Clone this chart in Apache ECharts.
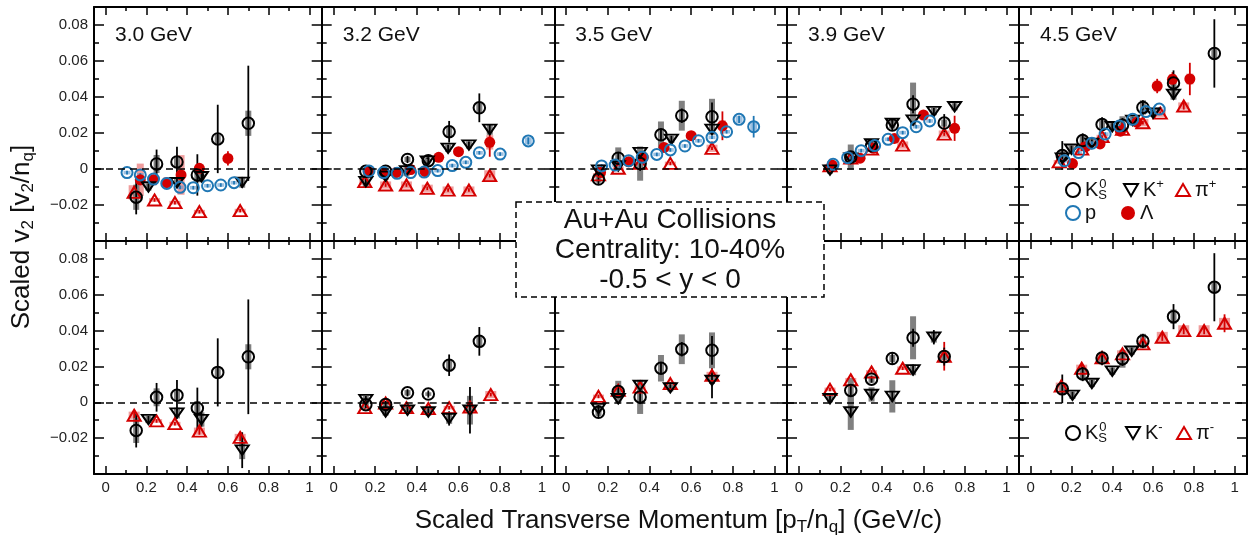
<!DOCTYPE html>
<html><head><meta charset="utf-8">
<script src="https://cdn.jsdelivr.net/npm/echarts@6/dist/echarts.min.js"></script>
<style>html,body{margin:0;padding:0;background:#fff}#c{width:1255px;height:544px}</style>
</head><body><div id="c"></div>
<script>
// ---------- DATA: [x (pT/nq), v2/nq, stat err, sys err] ----------
const ENERGIES = ['3.0 GeV', '3.2 GeV', '3.5 GeV', '3.9 GeV', '4.5 GeV'];
const X_MAJOR = [0, 0.2, 0.4, 0.6, 0.8, 1];
const X_MINOR = [0.1, 0.3, 0.5, 0.7, 0.9];

const KS_30 = [[0.15,-0.0157,0.0095,0.007],[0.25,0.0028,0.008,0.005],[0.35,0.0039,0.0085,0.003],[0.45,-0.0033,0.0115,0.004],[0.55,0.0167,0.019,0.0025],[0.70,0.0254,0.032,0.007]];
const Kp_30 = [[0.21,-0.0100,0.002,0.002],[0.35,-0.0076,0.002,0.002],[0.47,-0.0043,0.003,0.003],[0.67,-0.0074,0.003,0.003]];
const pip_30 = [[0.14,-0.0130,0.002,0.004],[0.24,-0.0172,0.001,0.001],[0.34,-0.0187,0.001,0.001],[0.46,-0.0237,0.001,0.001],[0.66,-0.0231,0.001,0.001]];
const Lam_30 = [[0.17,-0.0060,0.003,0.009],[0.235,-0.0060,0.002,0.003],[0.30,-0.0076,0.002,0.003],[0.37,-0.0033,0.003,0.011],[0.46,0.0004,0.002,0.002],[0.60,0.0059,0.004,0.002]];
const p_30 = [[0.105,-0.0020,0.001,0.001],[0.17,-0.0033,0.001,0.001],[0.235,-0.0056,0.001,0.001],[0.30,-0.0080,0.001,0.001],[0.365,-0.0102,0.001,0.001],[0.43,-0.0104,0.001,0.001],[0.50,-0.0093,0.001,0.001],[0.565,-0.0089,0.001,0.001],[0.63,-0.0076,0.001,0.001]];
const Km_30 = [[0.21,-0.0096,0.002,0.002],[0.35,-0.0060,0.003,0.003],[0.47,-0.0096,0.004,0.004],[0.67,-0.0267,0.010,0.005]];
const pim_30 = [[0.14,-0.0072,0.002,0.002],[0.25,-0.0104,0.001,0.001],[0.34,-0.0119,0.001,0.001],[0.46,-0.0161,0.002,0.002],[0.66,-0.0196,0.002,0.002]];

const KS_32 = [[0.155,-0.0013,0.002,0.002],[0.25,-0.0012,0.002,0.002],[0.355,0.0053,0.002,0.0015],[0.455,0.0046,0.002,0.001],[0.555,0.0207,0.006,0.003],[0.70,0.0340,0.008,0.003]];
const Kp_32 = [[0.155,-0.0070,0.003,0.003],[0.25,-0.0040,0.002,0.002],[0.35,-0.0010,0.002,0.003],[0.45,0.0044,0.002,0.002],[0.55,0.0115,0.002,0.002],[0.65,0.0133,0.002,0.002],[0.75,0.0220,0.003,0.003]];
const pip_32 = [[0.15,-0.0070,0.001,0.002],[0.25,-0.0089,0.001,0.002],[0.35,-0.0089,0.001,0.002],[0.45,-0.0107,0.001,0.002],[0.55,-0.0117,0.001,0.002],[0.65,-0.0117,0.001,0.002],[0.75,-0.0037,0.001,0.003]];
const Lam_32 = [[0.17,-0.0015,0.001,0.001],[0.24,-0.0024,0.001,0.001],[0.30,-0.0020,0.001,0.001],[0.37,-0.0003,0.001,0.001],[0.44,-0.0015,0.001,0.001],[0.505,0.0065,0.002,0.001],[0.60,0.0096,0.002,0.002],[0.75,0.0148,0.008,0.004]];
const p_32 = [[0.17,-0.0011,0.001,0.001],[0.24,-0.0020,0.001,0.001],[0.305,-0.0024,0.001,0.001],[0.37,-0.0020,0.001,0.001],[0.435,-0.0017,0.001,0.001],[0.50,-0.0009,0.001,0.001],[0.57,0.0019,0.001,0.001],[0.635,0.0037,0.001,0.001],[0.70,0.0090,0.001,0.001],[0.80,0.0083,0.001,0.001],[0.935,0.0156,0.002,0.002]];
const Km_32 = [[0.155,0.0015,0.002,0.002],[0.25,-0.0054,0.002,0.002],[0.355,-0.0044,0.002,0.002],[0.455,-0.0054,0.002,0.002],[0.555,-0.0090,0.004,0.003],[0.655,-0.0044,0.013,0.008]];
const pim_32 = [[0.15,-0.0030,0.001,0.001],[0.25,-0.0004,0.001,0.001],[0.35,-0.0030,0.001,0.001],[0.455,-0.0035,0.001,0.001],[0.555,-0.0030,0.001,0.001],[0.655,-0.0026,0.001,0.001],[0.755,0.0043,0.001,0.002]];

const KS_35 = [[0.155,-0.0056,0.003,0.002],[0.25,0.0060,0.003,0.006],[0.355,0.0030,0.004,0.0095],[0.455,0.0190,0.003,0.0074],[0.555,0.0296,0.004,0.0083],[0.70,0.0290,0.008,0.010]];
const Kp_35 = [[0.155,-0.0006,0.002,0.002],[0.25,0.0017,0.002,0.002],[0.355,0.0091,0.002,0.002],[0.505,0.0165,0.002,0.002],[0.70,0.0220,0.003,0.002]];
const pip_35 = [[0.155,-0.0033,0.001,0.001],[0.25,0.0004,0.001,0.001],[0.355,0.0031,0.001,0.001],[0.50,0.0031,0.001,0.001],[0.70,0.0115,0.001,0.002]];
const Lam_35 = [[0.165,-0.0020,0.001,0.001],[0.30,0.0040,0.001,0.001],[0.37,0.0065,0.002,0.001],[0.47,0.0120,0.002,0.001],[0.60,0.0185,0.002,0.001],[0.75,0.0240,0.008,0.003]];
const p_35 = [[0.17,0.0017,0.001,0.001],[0.235,0.0022,0.001,0.001],[0.30,0.0046,0.001,0.001],[0.365,0.0065,0.001,0.001],[0.435,0.0081,0.001,0.001],[0.50,0.0106,0.001,0.001],[0.57,0.0128,0.001,0.001],[0.635,0.0157,0.001,0.001],[0.70,0.0176,0.001,0.001],[0.77,0.0207,0.001,0.001],[0.83,0.0276,0.002,0.002],[0.90,0.0235,0.006,0.003]];
const Km_35 = [[0.155,-0.0035,0.002,0.002],[0.25,0.0020,0.003,0.002],[0.355,0.0094,0.002,0.002],[0.50,0.0081,0.002,0.002],[0.70,0.0122,0.010,0.002]];
const pim_35 = [[0.155,0.0033,0.001,0.001],[0.25,0.0067,0.001,0.001],[0.355,0.0085,0.001,0.001],[0.50,0.0104,0.001,0.001],[0.70,0.0150,0.001,0.002]];

const KS_39 = [[0.25,0.0066,0.003,0.007],[0.35,0.0129,0.002,0.002],[0.45,0.0244,0.003,0.002],[0.55,0.0360,0.005,0.012],[0.70,0.0255,0.005,0.002]];
const Kp_39 = [[0.15,-0.0006,0.002,0.002],[0.25,0.0060,0.002,0.002],[0.35,0.0139,0.002,0.002],[0.45,0.0254,0.002,0.002],[0.55,0.0272,0.002,0.002],[0.65,0.0319,0.002,0.002],[0.75,0.0346,0.002,0.002]];
const pip_39 = [[0.15,0.0017,0.001,0.001],[0.25,0.0060,0.001,0.001],[0.35,0.0110,0.001,0.001],[0.50,0.0133,0.001,0.002],[0.70,0.0194,0.001,0.002]];
const Lam_39 = [[0.16,0.0022,0.002,0.001],[0.295,0.0060,0.002,0.001],[0.36,0.0115,0.002,0.001],[0.46,0.0170,0.002,0.001],[0.60,0.0300,0.002,0.001],[0.75,0.0226,0.007,0.002]];
const p_39 = [[0.165,0.0026,0.001,0.001],[0.235,0.0063,0.001,0.001],[0.30,0.0102,0.001,0.001],[0.365,0.0130,0.001,0.001],[0.43,0.0165,0.001,0.001],[0.50,0.0202,0.001,0.001],[0.565,0.0235,0.001,0.001],[0.63,0.0267,0.001,0.001]];
const Km_39 = [[0.15,0.0020,0.002,0.002],[0.25,-0.0054,0.003,0.010],[0.35,0.0044,0.003,0.004],[0.45,0.0033,0.003,0.009],[0.55,0.0181,0.003,0.003],[0.65,0.0363,0.004,0.003]];
const pim_39 = [[0.15,0.0072,0.001,0.001],[0.25,0.0126,0.001,0.001],[0.35,0.0169,0.001,0.001],[0.50,0.0190,0.001,0.001],[0.70,0.0257,0.008,0.002]];

const KS_45 = [[0.155,0.0075,0.008,0.003],[0.255,0.0158,0.004,0.003],[0.35,0.0247,0.004,0.003],[0.45,0.0243,0.004,0.005],[0.55,0.0342,0.004,0.004],[0.70,0.0478,0.007,0.004],[0.90,0.0642,0.019,0.003]];
const Kp_45 = [[0.155,0.0060,0.002,0.002],[0.20,0.0110,0.002,0.002],[0.30,0.0143,0.002,0.002],[0.40,0.0235,0.002,0.002],[0.50,0.0270,0.002,0.002],[0.60,0.0310,0.002,0.002],[0.70,0.0415,0.003,0.003]];
const pip_45 = [[0.14,0.0040,0.001,0.001],[0.25,0.0110,0.001,0.001],[0.35,0.0180,0.001,0.001],[0.45,0.0220,0.001,0.001],[0.55,0.0257,0.001,0.002],[0.635,0.0310,0.001,0.002],[0.75,0.0350,0.002,0.002]];
const Lam_45 = [[0.205,0.0030,0.002,0.002],[0.27,0.0124,0.002,0.002],[0.34,0.0139,0.002,0.002],[0.44,0.0210,0.002,0.002],[0.52,0.0260,0.002,0.002],[0.62,0.0461,0.004,0.003],[0.695,0.0498,0.004,0.003],[0.78,0.0500,0.009,0.003]];
const p_45 = [[0.165,0.0046,0.001,0.001],[0.235,0.0091,0.001,0.001],[0.30,0.0143,0.001,0.001],[0.365,0.0194,0.001,0.001],[0.435,0.0239,0.001,0.001],[0.50,0.0276,0.001,0.001],[0.565,0.0319,0.001,0.001],[0.63,0.0333,0.001,0.001]];
const Km_45 = [[0.205,0.0039,0.002,0.002],[0.30,0.0105,0.002,0.002],[0.40,0.0174,0.002,0.002],[0.495,0.0285,0.002,0.002]];
const pim_45 = [[0.15,0.0090,0.003,0.002],[0.25,0.0190,0.002,0.002],[0.35,0.0248,0.002,0.002],[0.45,0.0270,0.002,0.002],[0.55,0.0326,0.002,0.002],[0.645,0.0363,0.002,0.003],[0.75,0.0400,0.002,0.003],[0.85,0.0400,0.002,0.003],[0.95,0.0441,0.005,0.003]];

// panel contents (draw order: first drawn at bottom)
const TOP_PANELS = [
  {Lam: Lam_30, pip: pip_30, Kp: Kp_30, KS: KS_30, p: p_30},
  {Lam: Lam_32, pip: pip_32, Kp: Kp_32, KS: KS_32, p: p_32},
  {Lam: Lam_35, pip: pip_35, Kp: Kp_35, KS: KS_35, p: p_35},
  {Lam: Lam_39, pip: pip_39, Kp: Kp_39, KS: KS_39, p: p_39},
  {Lam: Lam_45, pip: pip_45, Kp: Kp_45, KS: KS_45, p: p_45}
];
const BOT_PANELS = [
  {pim: pim_30, Km: Km_30, KS: KS_30},
  {pim: pim_32, Km: Km_32, KS: KS_32},
  {pim: pim_35, Km: Km_35, KS: KS_35},
  {pim: pim_39, Km: Km_39, KS: KS_39},
  {pim: pim_45, Km: Km_45, KS: KS_45}
];

// ---------- LAYOUT / STYLE ----------
const FONT = '"Liberation Sans", Arial, Helvetica, sans-serif';
const COL_LEFT = [94, 321.7, 554.3, 787, 1019];
const COL_W = [227.7, 232.6, 232.7, 232, 228];
const ROW_TOP = [7, 241];
const ROW_H = [234, 233];
const XMIN = -0.057, XMAX = 1.06, YMIN = -0.04, YMAX = 0.09;
const RED = '#d40000', BLUE = '#1f77b4';
const INV = 'path://M0,0L14,0L7,12Z';

const STY = {
  KS:  {symbol:'circle', size:11.5, fill:'rgba(0,0,0,0)', border:'#000', bw:2, stat:'#000', sys:'#808080', boxW:6},
  Kp:  {symbol:INV, size:[13,11], fill:'rgba(0,0,0,0)', border:'#000', bw:2, stat:'#000', sys:'#808080', boxW:6},
  Km:  {symbol:INV, size:[13,11], fill:'rgba(0,0,0,0)', border:'#000', bw:2, stat:'#000', sys:'#808080', boxW:6},
  pip: {symbol:'triangle', size:[13,11], fill:'rgba(0,0,0,0)', border:RED, bw:2, stat:RED, sys:'rgba(225,60,60,0.5)', boxW:11},
  pim: {symbol:'triangle', size:[13,11], fill:'rgba(0,0,0,0)', border:RED, bw:2, stat:RED, sys:'rgba(225,60,60,0.5)', boxW:11},
  p:   {symbol:'circle', size:11, fill:'rgba(0,0,0,0)', border:BLUE, bw:2, stat:BLUE, sys:'rgba(90,150,205,0.6)', boxW:7},
  Lam: {symbol:'circle', size:11, fill:RED, border:RED, bw:0, stat:RED, sys:'rgba(225,60,60,0.5)', boxW:7}
};
const LEG_STY = {
  KS:{symbol:'circle'}, Kp:{symbol:INV}, Km:{symbol:INV}, pip:{symbol:'triangle'}, pim:{symbol:'triangle'}, p:{symbol:'circle'}, Lam:{symbol:'circle'}
};

const grids = [], xAxes = [], yAxes = [], series = [];

function xAx(g, pos, ticks, len, showLine, showLabel) {
  return {
    type:'value', gridIndex:g, position:pos, min:XMIN, max:XMAX,
    axisLine:{show:showLine, onZero:false, lineStyle:{color:'#000', width:2}},
    axisTick:{show:true, inside:true, length:len, customValues:ticks, lineStyle:{color:'#000', width:1.5}},
    axisLabel:{show:showLabel, customValues:ticks, margin:6, fontSize:15, color:'#222', fontFamily:FONT, formatter:v=>String(v)},
    splitLine:{show:false}, minorTick:{show:false}
  };
}
function yAx(g, pos, showLabel) {
  return {
    type:'value', gridIndex:g, position:pos, min:YMIN, max:YMAX, interval:0.02,
    axisLine:{show:true, onZero:false, lineStyle:{color:'#000', width:2}},
    axisTick:{show:true, inside:true, length:10, lineStyle:{color:'#000', width:1.5}},
    minorTick:{show:true, splitNumber:2, length:5, lineStyle:{color:'#000', width:1.5}},
    axisLabel:{show:showLabel, showMinLabel:false, showMaxLabel:false, margin:6, fontSize:15, color:'#222', fontFamily:FONT,
      formatter:v=>{ if (Math.abs(v) < 1e-9) return '0'; return (v<0?'\u2212':'') + Math.abs(v).toFixed(2); }},
    splitLine:{show:false}
  };
}
function errRender(sty) {
  return function(params, api) {
    const x = api.value(0), y = api.value(1), st = api.value(2), sy = api.value(3);
    const c = api.coord([x, y]);
    const a = api.coord([x, y + st]), b = api.coord([x, y - st]);
    const s1 = api.coord([x, y + sy]), s2 = api.coord([x, y - sy]);
    return {type:'group', children:[
      {type:'rect', shape:{x:c[0]-sty.boxW/2, y:s1[1], width:sty.boxW, height:s2[1]-s1[1]}, style:{fill:sty.sys}},
      {type:'line', shape:{x1:c[0], y1:a[1], x2:c[0], y2:b[1]}, style:{stroke:sty.stat, lineWidth:1.8}}
    ]};
  };
}

for (let r = 0; r < 2; r++) {
  for (let e = 0; e < 5; e++) {
    const g = grids.length;
    grids.push({left:COL_LEFT[e], top:ROW_TOP[r], width:COL_W[e], height:ROW_H[r], containLabel:false, outerBoundsMode:'none'});
    const xi = xAxes.length;
    xAxes.push(xAx(g,'bottom',X_MAJOR,8,true,r===1));
    xAxes.push(xAx(g,'bottom',X_MINOR,4,false,false));
    xAxes.push(xAx(g,'top',X_MAJOR,8,true,false));
    xAxes.push(xAx(g,'top',X_MINOR,4,false,false));
    const yi = yAxes.length;
    yAxes.push(yAx(g,'left',e===0));
    yAxes.push(yAx(g,'right',false));
    const panel = r === 0 ? TOP_PANELS[e] : BOT_PANELS[e];
    const keys = Object.keys(panel);
    keys.forEach(k => {
      series.push({type:'custom', name:'err_'+k, xAxisIndex:xi, yAxisIndex:yi, data:panel[k],
        encode:{x:0, y:1}, renderItem:errRender(STY[k]), clip:true, z:2, silent:true});
    });
    keys.forEach(k => {
      const s = STY[k];
      const ser = {type:'scatter', name:k, xAxisIndex:xi, yAxisIndex:yi,
        data:panel[k].map(d => [d[0], d[1]]),
        symbol:s.symbol, symbolSize:s.size, symbolKeepAspect:true,
        itemStyle:{color:s.fill, borderColor:s.border, borderWidth:s.bw, opacity:1},
        z:3, silent:true};
      if (k === 'KS') {
        ser.markLine = {silent:true, symbol:['none','none'], label:{show:false}, animation:false,
          lineStyle:{type:[7,5], color:'#000', width:1.5}, data:[{yAxis:0}]};
      }
      series.push(ser);
    });
  }
}

// hidden grid holding axis titles
const HG = grids.length;
grids.push({left:102, top:4, width:1153, height:466, containLabel:false, outerBoundsMode:'none'});
xAxes.push({type:'value', gridIndex:HG, min:0, max:1, axisLine:{show:false}, axisTick:{show:false}, axisLabel:{show:false}, splitLine:{show:false},
  name:'{t|Scaled Transverse Momentum [p}{s|T}{t|/n}{s|q}{t|] (GeV/c)}', nameLocation:'middle', nameGap:36,
  nameTextStyle:{rich:{t:{fontSize:26, lineHeight:30, fontFamily:FONT, color:'#111'}, s:{fontSize:17, lineHeight:20, verticalAlign:'bottom', fontFamily:FONT, color:'#111'}}}});
yAxes.push({type:'value', gridIndex:HG, min:0, max:1, axisLine:{show:false}, axisTick:{show:false}, axisLabel:{show:false}, splitLine:{show:false},
  name:'{t|Scaled v}{s|2}{t| [v}{s|2}{t|/n}{s|q}{t|]}', nameLocation:'middle', nameGap:65, nameRotate:90,
  nameTextStyle:{rich:{t:{fontSize:26, lineHeight:30, fontFamily:FONT, color:'#111'}, s:{fontSize:17, lineHeight:20, verticalAlign:'bottom', fontFamily:FONT, color:'#111'}}}});

// legends (one item each)
const LEG_TXT = {KS:'{m|K}{sb|S}{sp|0}', Kp:'{m|K}{sp|+}', pip:'{m|\u03c0}{sp|+}', p:'{m|p}', Lam:'{m|\u039b}', Km:'{m|K}{sp|-}', pim:'{m|\u03c0}{sp|-}'};
const LEG_POS = [['KS',1065,178],['Kp',1123,178],['pip',1175,178],['p',1065,203],['Lam',1121,203],['KS',1065,421],['Km',1125,421],['pim',1176,421]];
const legends = LEG_POS.map(([n, l, t]) => {
  const s = STY[n];
  return {show:true, left:l, top:t, padding:0, itemWidth:14, itemHeight:n==='KS'||n==='p'||n==='Lam'?14:12, itemGap:0, selectedMode:false,
    data:[{name:n, icon:LEG_STY[n].symbol, itemStyle:{color:s.fill, borderColor:s.border, borderWidth:s.bw}}],
    formatter:name => LEG_TXT[name],
    textStyle:{color:'#111', fontFamily:FONT, rich:{
      m:{fontSize:20, lineHeight:24, fontFamily:FONT, color:'#111'},
      sb:{fontSize:13, lineHeight:14, verticalAlign:'bottom', width:1, fontFamily:FONT, color:'#111'},
      sp:{fontSize:13, lineHeight:14, verticalAlign:'top', fontFamily:FONT, color:'#111'}}}};
});

const titles = ENERGIES.map((t, i) => ({text:t, left:COL_LEFT[i]+21, top:23, padding:0,
  textStyle:{fontSize:21, fontWeight:'normal', color:'#111', fontFamily:FONT, lineHeight:24}}));

const option = {
  animation:false,
  backgroundColor:'#fff',
  title:titles,
  legend:legends,
  grid:grids, xAxis:xAxes, yAxis:yAxes, series:series,
  graphic:[{type:'group', z:100, children:[
    {type:'rect', z:100, shape:{x:516, y:202, width:308, height:95}, style:{fill:'#fff', stroke:'#000', lineWidth:1.5, lineDash:[6,4]}},
    {type:'text', z:101, x:670, y:250, style:{text:'Au+Au Collisions\nCentrality: 10-40%\n-0.5 < y < 0', fontSize:28, lineHeight:30,
      fontFamily:FONT, fill:'#111', align:'center', verticalAlign:'middle'}}
  ]}]
};
const chart = echarts.init(document.getElementById('c'), null, {renderer:'canvas'});
chart.setOption(option);
</script></body></html>
